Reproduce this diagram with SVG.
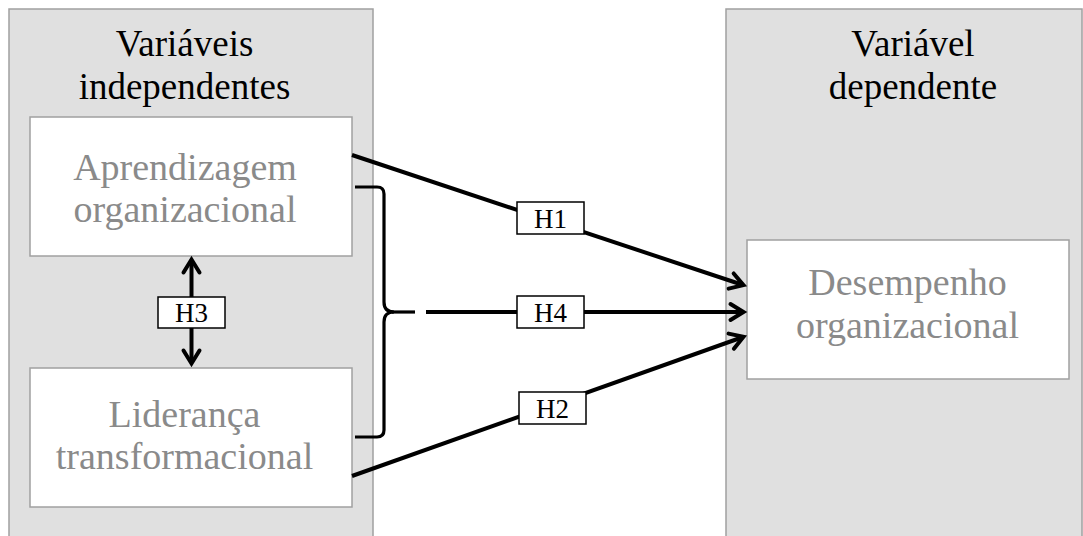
<svg xmlns="http://www.w3.org/2000/svg" width="1083" height="536" viewBox="0 0 1083 536">
<style>
.panel{fill:#e0e0e0;stroke:#a0a0a0;stroke-width:1.5}
.box{fill:#ffffff;stroke:#a0a0a0;stroke-width:1.5}
.head{font-family:"Liberation Serif","Times New Roman",serif;font-size:37px;fill:#000;text-anchor:middle}
.inner{font-family:"Liberation Serif","Times New Roman",serif;font-size:38px;fill:#8a8a8a;text-anchor:middle}
.conn{stroke:#000;stroke-width:4;fill:none}
.brace{stroke:#000;stroke-width:3.2;fill:none}
.lbl{fill:#fff;stroke:#000;stroke-width:1.5}
.lbltxt{font-family:"Liberation Serif","Times New Roman",serif;font-size:27px;fill:#000;text-anchor:middle}
</style>
<defs>
<marker id="arr" viewBox="0 0 20 20" refX="17.5" refY="10" markerWidth="20" markerHeight="20" markerUnits="userSpaceOnUse" orient="auto-start-reverse" overflow="visible">
<path d="M5,2 L18,10 L5,18" fill="none" stroke="#000" stroke-width="4" stroke-linejoin="miter" stroke-linecap="round"/>
</marker>
</defs>
<rect fill="#fff" x="0" y="0" width="1083" height="536"/>
<g id="panel-independentes">
<rect class="panel" x="9" y="9" width="364" height="540"/>
<text class="head" x="184.5" y="56">Variáveis</text>
<text class="head" x="184.5" y="99">independentes</text>
</g>
<g id="panel-dependente">
<rect class="panel" x="726" y="9" width="356" height="540"/>
<text class="head" x="913" y="56">Variável</text>
<text class="head" x="913" y="99">dependente</text>
</g>
<g id="node-aprendizagem">
<rect class="box" x="30" y="117" width="322" height="139"/>
<text class="inner" x="185" y="180">Aprendizagem</text>
<text class="inner" x="185" y="222">organizacional</text>
</g>
<g id="node-lideranca">
<rect class="box" x="30" y="368" width="322" height="139"/>
<text class="inner" x="184.5" y="427">Liderança</text>
<text class="inner" x="184.5" y="469">transformacional</text>
</g>
<g id="node-desempenho">
<rect class="box" x="747" y="240" width="322" height="139"/>
<text class="inner" x="907.5" y="295">Desempenho</text>
<text class="inner" x="907.5" y="338">organizacional</text>
</g>
<g id="connectors">
<path class="conn" d="M352,155 L743,285" marker-end="url(#arr)"/>
<path class="conn" d="M426,312 L743,312" marker-end="url(#arr)"/>
<path class="conn" d="M352,476 L743,337" marker-end="url(#arr)"/>
<path class="conn" d="M191.5,260 L191.5,363" marker-start="url(#arr)" marker-end="url(#arr)"/>
<path class="brace" d="M355,187 L377,187 Q384,187 384,194 L384,302 Q384,312 394,312 Q384,312 384,322 L384,430 Q384,437 377,437 L355,437"/>
<path class="brace" d="M392,312 L415,312"/>
<rect class="lbl" x="517" y="202" width="67" height="32"/>
<text class="lbltxt" x="550.5" y="228">H1</text>
<rect class="lbl" x="517" y="296" width="67" height="32"/>
<text class="lbltxt" x="550.5" y="322">H4</text>
<rect class="lbl" x="519" y="392" width="67" height="32"/>
<text class="lbltxt" x="552.5" y="418">H2</text>
<rect class="lbl" x="158" y="297" width="67" height="31"/>
<text class="lbltxt" x="191.5" y="322">H3</text>
</g>
</svg>
